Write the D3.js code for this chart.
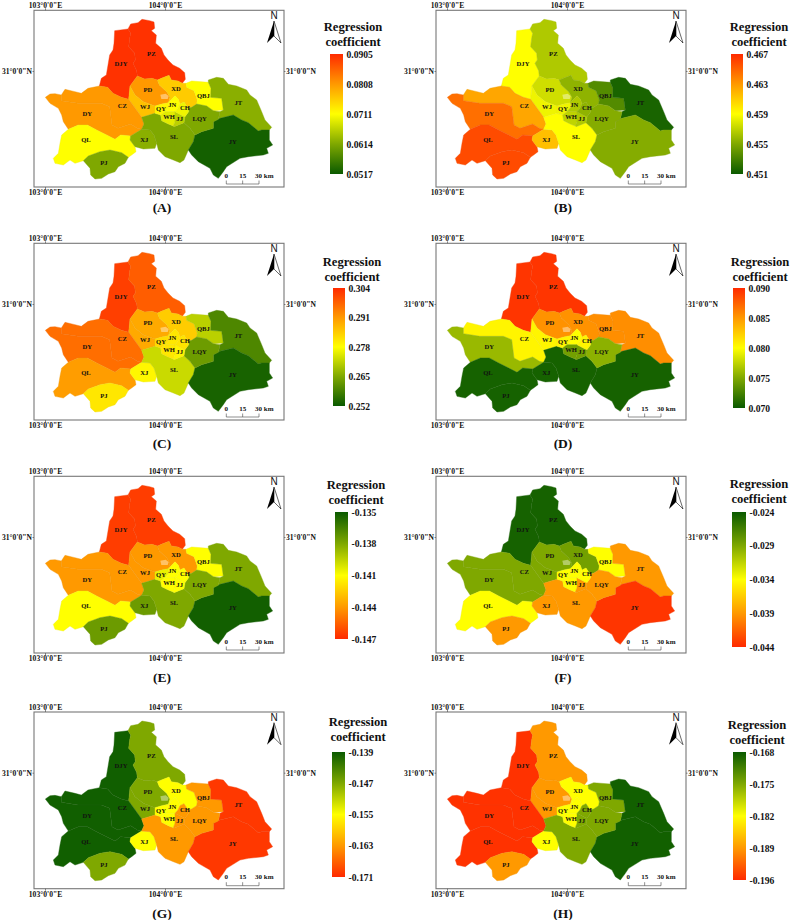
<!DOCTYPE html>
<html><head><meta charset="utf-8">
<style>html,body{margin:0;padding:0;background:#fff}svg{display:block}text{font-family:"Liberation Serif",serif;font-weight:bold;fill:#111}</style>
<script src="https://cdn.jsdelivr.net/npm/d3@7/dist/d3.min.js"></script>
</head><body>
<script>
// District outlines: grid units of 1/360 degree, east and south of 102.625E 31.5917N.
const gridLon0 = 102.625, gridLat0 = 31.5917, gridPerDegree = 360;
const DJY=[[384,87],[392,100],[389,115],[386,140],[404,160],[406,180],[399,190],[410,212],[412,228],[390,258],[386,298],[364,292],[339,280],[323,262],[298,258],[304,235],[319,225],[324,195],[329,165],[339,150],[342,130],[344,92]];
const PZ=[[384,87],[392,72],[414,68],[426,58],[449,62],[462,66],[464,85],[454,92],[469,105],[467,130],[484,145],[492,165],[504,180],[519,195],[539,205],[554,218],[556,238],[547,250],[534,243],[514,240],[507,226],[484,235],[472,240],[456,235],[434,237],[412,228],[410,212],[399,190],[406,180],[404,160],[386,140],[389,115],[392,100]];
const PD=[[412,228],[434,237],[456,235],[472,240],[478,255],[500,275],[510,292],[505,308],[485,312],[465,318],[430,305],[405,285],[390,258]];
const WJ=[[390,258],[405,285],[430,305],[465,318],[465,340],[425,352],[386,298]];
const CZ=[[184,285],[195,268],[225,275],[244,280],[264,265],[298,258],[323,262],[339,280],[364,292],[386,298],[425,352],[432,372],[425,388],[412,385],[392,372],[354,385],[336,375],[329,320],[304,310],[234,310],[184,302]];
const DY=[[136,292],[150,282],[165,281],[184,285],[184,302],[234,310],[304,310],[329,320],[336,375],[354,385],[392,372],[412,385],[425,388],[392,408],[362,405],[345,418],[320,405],[290,390],[262,375],[235,375],[205,388],[190,365],[185,345],[175,325],[150,310]];
const QL=[[205,388],[235,375],[262,375],[290,390],[320,405],[345,418],[362,405],[392,408],[390,420],[405,440],[408,455],[395,465],[385,472],[365,458],[330,450],[300,455],[265,468],[250,482],[225,490],[210,480],[190,495],[165,490],[160,475],[175,460],[180,430],[185,405]];
const PJ=[[250,482],[265,468],[300,455],[330,450],[365,458],[385,472],[375,490],[355,500],[345,515],[325,522],[305,535],[285,537],[272,525],[270,505]];
const XJ=[[392,408],[425,388],[450,390],[462,405],[470,430],[465,445],[430,447],[405,440],[390,420]];
const SL=[[425,352],[465,340],[482,345],[485,362],[505,372],[520,378],[522,380],[552,368],[570,385],[585,405],[580,425],[565,450],[552,480],[540,488],[520,480],[495,470],[475,450],[470,430],[462,405],[450,390],[425,388],[432,372]];
const XD=[[484,235],[507,226],[514,240],[534,243],[547,250],[558,250],[560,262],[582,272],[592,300],[590,312],[575,322],[564,325],[552,306],[540,312],[535,298],[525,287],[505,308],[510,292],[500,275],[478,255],[472,240]];
const QBJ=[[558,250],[575,243],[625,247],[633,265],[632,292],[665,295],[670,330],[640,332],[620,318],[590,312],[592,300],[582,272],[560,262]];
const JT=[[625,247],[625,240],[650,232],[670,235],[685,253],[710,258],[740,270],[750,285],[770,300],[785,335],[795,360],[815,382],[808,390],[785,390],[775,393],[745,368],[725,360],[700,345],[660,355],[640,365],[655,358],[660,335],[670,330],[665,295],[632,292],[633,265]];
const JY=[[565,450],[580,425],[585,405],[605,395],[640,385],[640,365],[660,355],[700,345],[725,360],[745,368],[775,393],[785,390],[808,390],[808,420],[818,435],[800,445],[805,460],[790,465],[745,470],[720,475],[680,500],[670,515],[655,535],[640,525],[630,505],[595,485],[575,465]];
const LQY=[[575,322],[590,312],[620,318],[640,332],[660,335],[655,358],[640,365],[640,385],[605,395],[585,405],[570,385],[552,368],[555,350],[566,335],[564,325]];
const QY=[[465,318],[485,312],[505,308],[508,320],[495,335],[482,345],[465,340]];
const JN=[[505,308],[525,287],[535,298],[540,312],[534,325],[525,335],[495,335],[508,320]];
const WH=[[482,345],[495,335],[525,335],[525,365],[520,378],[505,372],[485,362]];
const JJ=[[525,335],[548,347],[555,350],[552,368],[522,380],[520,378],[525,365]];
const CH=[[540,312],[552,306],[564,325],[566,335],[555,350],[548,347],[525,335],[534,325]];
const cityCore=[[481,284],[497,281],[506,288],[503,297],[484,297]];

const districtNames=["DJY","PZ","PD","WJ","CZ","DY","QL","PJ","XJ","SL","XD","QBJ","JT","JY","LQY","QY","JN","WH","JJ","CH"];
const districtShapes=[DJY,PZ,PD,WJ,CZ,DY,QL,PJ,XJ,SL,XD,QBJ,JT,JY,LQY,QY,JN,WH,JJ,CH];
const labelAnchors=[[363,192],[454,162],[444,268],[435,320],[367,316],[262,342],[258,420],[312,487],[433,418],[522,411],[528,266],[610,287],[715,308],[698,424],[599,357],[483,327],[517,315],[507,350],[539,357],[555,323]];

// Regression coefficient per district, same order as districtNames.
const valuesA=[0.0898,0.0898,0.0808,0.0770,0.0808,0.0808,0.0711,0.0614,0.0622,0.0614,0.0760,0.0711,0.0622,0.0525,0.0614,0.0720,0.0711,0.0690,0.0660,0.0700];
const valuesB=[0.459,0.4565,0.4575,0.4585,0.4625,0.4645,0.4658,0.4658,0.4615,0.459,0.4555,0.4535,0.4515,0.4552,0.4552,0.4585,0.4565,0.457,0.4565,0.4555];
const valuesC=[0.3015,0.298,0.289,0.289,0.296,0.296,0.2905,0.281,0.279,0.2725,0.2845,0.271,0.2595,0.2535,0.263,0.2825,0.281,0.281,0.2795,0.2815];
const valuesD=[0.0895,0.0895,0.0853,0.0805,0.0805,0.076,0.0705,0.0705,0.0705,0.0705,0.0853,0.0855,0.0855,0.0705,0.0755,0.0805,0.08,0.0745,0.0745,0.0805];
const valuesE=[-0.1465,-0.1465,-0.144,-0.144,-0.144,-0.144,-0.141,-0.1375,-0.1375,-0.138,-0.144,-0.141,-0.138,-0.1352,-0.138,-0.1405,-0.141,-0.141,-0.141,-0.141];
const valuesF=[-0.0245,-0.0245,-0.029,-0.029,-0.029,-0.029,-0.034,-0.039,-0.039,-0.039,-0.0285,-0.034,-0.039,-0.0435,-0.039,-0.034,-0.034,-0.034,-0.039,-0.034];
const valuesG=[-0.1395,-0.147,-0.147,-0.147,-0.1395,-0.1395,-0.1395,-0.147,-0.155,-0.163,-0.155,-0.163,-0.170,-0.170,-0.163,-0.155,-0.155,-0.155,-0.163,-0.163];
const valuesH=[-0.1955,-0.189,-0.189,-0.189,-0.1955,-0.1955,-0.1955,-0.189,-0.182,-0.175,-0.182,-0.175,-0.1685,-0.1685,-0.175,-0.182,-0.182,-0.182,-0.175,-0.175];

const ticksA=["0.0905","0.0808","0.0711","0.0614","0.0517"];
const ticksB=["0.467","0.463","0.459","0.455","0.451"];
const ticksC=["0.304","0.291","0.278","0.265","0.252"];
const ticksD=["0.090","0.085","0.080","0.075","0.070"];
const ticksE=["-0.135","-0.138","-0.141","-0.144","-0.147"];
const ticksF=["-0.024","-0.029","-0.034","-0.039","-0.044"];
const ticksG=["-0.139","-0.147","-0.155","-0.163","-0.171"];
const ticksH=["-0.168","-0.175","-0.182","-0.189","-0.196"];
const rampGreenToRed=["#0a5a00","#7fa800","#ffff00","#ff9900","#ff2a00"];

const panels=[
 {id:"A",v:valuesA,t:ticksA,redTop:true, dx:0,  dy:0,    bar:[330,343,54,174],title:[353,27,42],cap:[162,207]},
 {id:"B",v:valuesB,t:ticksB,redTop:true, dx:402,dy:0,    bar:[731,743,54,174],title:[759,27,42],cap:[563,207]},
 {id:"C",v:valuesC,t:ticksC,redTop:true, dx:0,  dy:233,  bar:[333,345,288,406],title:[352,262,277],cap:[162,443]},
 {id:"D",v:valuesD,t:ticksD,redTop:true, dx:402,dy:233,  bar:[733,745,288,408],title:[760,262,277],cap:[563,443]},
 {id:"E",v:valuesE,t:ticksE,redTop:false,dx:0,  dy:466,  bar:[335,348,512,639],title:[356,485,500],cap:[162,677]},
 {id:"F",v:valuesF,t:ticksF,redTop:false,dx:402,dy:466,  bar:[732,746,512,647],title:[759,484,499],cap:[563,677]},
 {id:"G",v:valuesG,t:ticksG,redTop:false,dx:0,  dy:701.7,bar:[332,345,752,877],title:[358,722,737],cap:[162,913]},
 {id:"H",v:valuesH,t:ticksH,redTop:false,dx:402,dy:701.7,bar:[733,746,752,880],title:[757,725,740],cap:[563,913]}
];

const svg=d3.select("body").append("svg").attr("width",796).attr("height",920);
const defs=svg.append("defs");
const toLonLat=g=>[gridLon0+g[0]/gridPerDegree, gridLat0-g[1]/gridPerDegree];
const toFeature=(shape)=>{const r=shape.map(toLonLat);r.push(r[0]);return {type:"Polygon",coordinates:[r]};};
const lonFmt=d=>`${d}°0'0"E`, latFmt=d=>`${d}°0'0"N`;
const axisText=s=>s.call(g=>g.select(".domain").remove())
  .call(g=>g.selectAll("line").attr("stroke","#555").attr("stroke-width",.7))
  .call(g=>g.selectAll("text").attr("font-size",7.6).attr("font-family",null));

panels.forEach(p=>{
  const x=d3.scaleLinear().domain([103,104]).range([45+p.dx,165+p.dx]);
  const y=d3.scaleLinear().domain([31,30]).range([71+p.dy,191+p.dy]);
  const path=d3.geoPath(d3.geoTransform({point(lon,lat){this.stream.point(x(lon),y(lat));}}));
  const stops=p.redTop?rampGreenToRed.slice().reverse():rampGreenToRed;
  const tickVals=p.t.map(Number);
  const color=d3.scaleLinear().domain(tickVals).range(stops);
  const g=svg.append("g");
  const fx0=34+p.dx, fx1=284+p.dx, fy0=10.3+p.dy, fy1=187+p.dy;

  // regions
  g.selectAll("path.r").data(districtShapes).join("path").attr("class","r")
    .attr("d",s=>path(toFeature(s)))
    .attr("fill",(s,i)=>color(p.v[i]))
    .attr("stroke",(s,i)=>d3.interpolateRgb(color(p.v[i]),"#777")(.1)).attr("stroke-width",.4);
  g.append("path").attr("d",path(toFeature(cityCore))).attr("fill","#fff").attr("fill-opacity",.4);

  // labels
  g.selectAll("text.l").data(districtNames).join("text").attr("class","l")
    .attr("x",(d,i)=>x(toLonLat(labelAnchors[i])[0]))
    .attr("y",(d,i)=>y(toLonLat(labelAnchors[i])[1]))
    .attr("text-anchor","middle").attr("dominant-baseline","central")
    .attr("font-size",6.6).attr("fill","#111").text(d=>d);

  // frame & graticule axes
  g.append("rect").attr("x",fx0).attr("y",fy0).attr("width",fx1-fx0).attr("height",fy1-fy0)
    .attr("fill","none").attr("stroke","#777").attr("stroke-width",1.1);
  g.append("g").attr("transform",`translate(0,${fy0})`)
    .call(d3.axisTop(x).tickValues([103,104]).tickFormat(lonFmt).tickSize(2).tickPadding(.5)).call(axisText);
  g.append("g").attr("transform",`translate(0,${fy1})`)
    .call(d3.axisBottom(x).tickValues([103,104]).tickFormat(lonFmt).tickSize(2).tickPadding(.5)).call(axisText);
  g.append("g").attr("transform",`translate(${fx0},0)`)
    .call(d3.axisLeft(y).tickValues([31]).tickFormat(latFmt).tickSize(1.5).tickPadding(.5)).call(axisText);
  g.append("g").attr("transform",`translate(${fx1},0)`)
    .call(d3.axisRight(y).tickValues([31]).tickFormat(latFmt).tickSize(1.5).tickPadding(.5)).call(axisText);

  // north arrow
  const na=g.append("g").attr("transform",`translate(${274+p.dx},${p.dy})`);
  na.append("text").attr("x",0).attr("y",19).attr("text-anchor","middle").attr("font-size",10)
    .style("font-weight","normal").style("font-family","'Liberation Sans'").text("N");
  na.append("path").attr("d","M0,21L-7,43L0,36Z").attr("fill","#000");
  na.append("path").attr("d","M0,21L7,43L0,36Z").attr("fill","#fff").attr("stroke","#000").attr("stroke-width",.6);

  // scale bar
  const km=d3.scaleLinear().domain([0,30]).range([226.3+p.dx,259+p.dx]);
  const barY=184+p.dy;
  g.append("path").attr("d",`M${km(0)},${barY-3.5}V${barY}H${km(30)}V${barY-3.5}M${km(15)},${barY-3.5}V${barY}`)
    .attr("fill","none").attr("stroke","#444").attr("stroke-width",.6);
  [[0,"0"],[15,"15"]].forEach(([k,t])=>g.append("text").attr("x",km(k)).attr("y",barY-6.5)
    .attr("text-anchor","middle").attr("font-size",7).text(t));
  g.append("text").attr("x",km(30)-4).attr("y",barY-6.5).attr("font-size",7).text("30 km");

  // legend
  const [bx0,bx1,by0,by1]=p.bar;
  const gid="grad"+p.id;
  const lg=defs.append("linearGradient").attr("id",gid).attr("x1",0).attr("x2",0).attr("y1",0).attr("y2",1);
  stops.forEach((c,i)=>lg.append("stop").attr("offset",i/4).attr("stop-color",c));
  g.append("rect").attr("x",bx0).attr("y",by0).attr("width",bx1-bx0).attr("height",by1-by0).attr("fill",`url(#${gid})`);
  const ly=d3.scaleLinear().domain([tickVals[0],tickVals[4]]).range([by0,by1]);
  g.append("g").attr("transform",`translate(${bx1},0)`)
    .call(d3.axisRight(ly).tickValues(tickVals).tickFormat((d,i)=>p.t[i]).tickSize(0).tickPadding(3.5))
    .call(s=>s.select(".domain").remove())
    .call(s=>s.selectAll("text").attr("font-size",9.6).attr("font-family",null));
  const [tx,t1,t2]=p.title;
  [["Regression",t1],["coefficient",t2]].forEach(([t,ty])=>g.append("text").attr("x",tx).attr("y",ty)
    .attr("text-anchor","middle").attr("dominant-baseline","central").attr("font-size",12.6).text(t));

  // caption
  g.append("text").attr("x",p.cap[0]).attr("y",p.cap[1]).attr("text-anchor","middle")
    .attr("dominant-baseline","central").attr("font-size",13.5).text(`(${p.id})`);
});
</script>
</body></html>
